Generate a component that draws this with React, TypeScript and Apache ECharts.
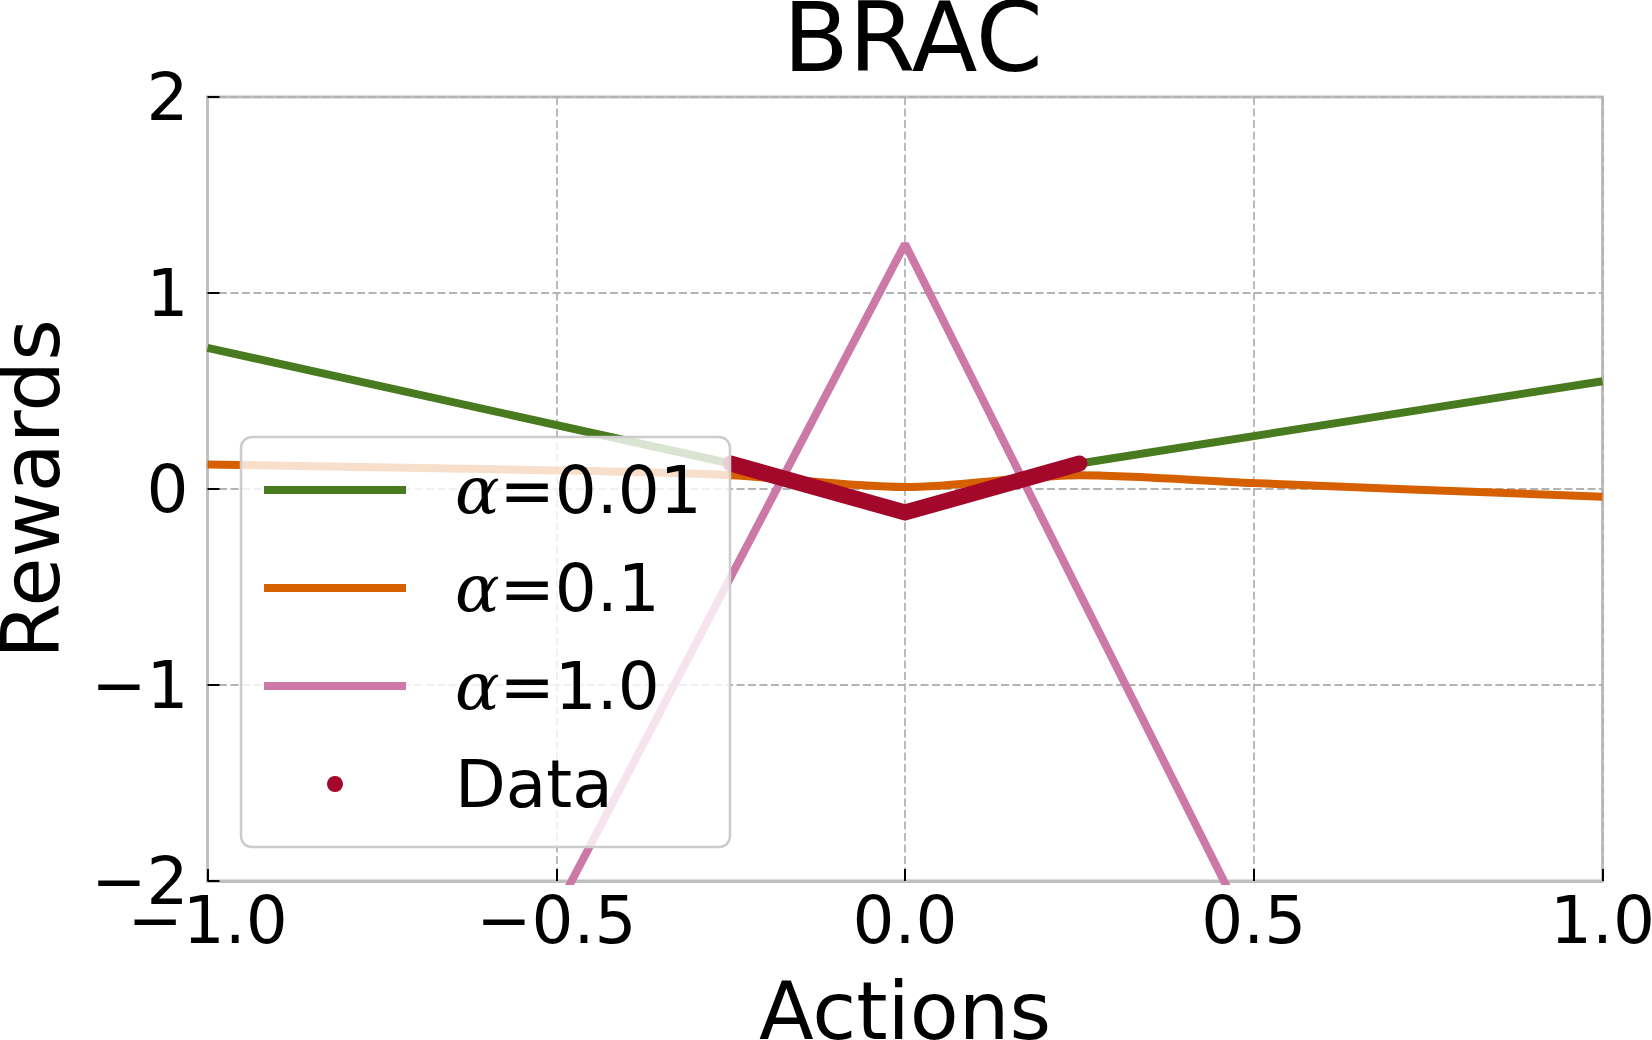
import React, { useEffect, useRef } from "react";
import * as echarts from "echarts";

// Sampled actions and the reward curves for each regularisation weight
const curveActions = [-1, -0.25, 0, 0.25, 1];
const rewardsAlpha001 = [0.72, 0.13, -0.1, 0.13, 0.55];
const midActions = [-1, -0.5, -0.25, 0, 0.25, 0.5, 1];
const rewardsAlpha01 = [0.125, 0.095, 0.07, 0.01, 0.07, 0.03, -0.04];
const rewardsAlpha1 = [-5.55, -0.45, 1.25, -0.53, -5.85];

// Behaviour data
const dataActions = [-0.25, 0, 0.25];
const dataRewards = [0.13, -0.12, 0.13];

const seriesNames = ["α=0.01", "α=0.1", "α=1.0", "Data"];
const seriesColors = ["#487a1f", "#d65f00", "#cc79a7", "#a3082b"];

const FONT = "DejaVu Sans";
const minus = (s: string) => s.replace("-", "\u2212");

const pairs = (xs: number[], ys: number[]) => xs.map((x, i) => [x, ys[i]]);

export default function App() {
  const ref = useRef<HTMLDivElement>(null);

  useEffect(() => {
    if (!ref.current) return;
    const chart = echarts.init(ref.current, undefined, { renderer: "svg" });

    const lineIcon = "path://M0 0H142V8H0Z";

    const option: any = {
      animation: false,
      backgroundColor: "#ffffff",
      textStyle: { fontFamily: FONT },
      title: {
        text: "BRAC",
        left: 778,
        top: -15,
        textStyle: {
          fontFamily: FONT,
          fontSize: 96,
          lineHeight: 96,
          fontWeight: "normal",
          color: "#000",
        },
      },
      grid: {
        left: 207.5,
        right: 49.5,
        top: 97,
        bottom: 159,
        show: true,
        borderColor: "#bfbfbf",
        borderWidth: 3,
        containLabel: false,
        outerBoundsMode: "none",
      },
      xAxis: {
        type: "value",
        min: -1,
        max: 1,
        interval: 0.5,
        name: "Actions",
        nameLocation: "middle",
        nameGap: 90,
        nameTextStyle: { fontFamily: FONT, fontSize: 80, color: "#000" },
        axisLine: { show: true, onZero: false, lineStyle: { color: "#bfbfbf", width: 3 } },
        axisTick: { show: true, inside: true, length: 12, lineStyle: { color: "#000", width: 2 } },
        axisLabel: {
          fontFamily: FONT,
          fontSize: 66,
          color: "#000",
          margin: 6,
          formatter: (v: number) => minus(v.toFixed(1)),
        },
        splitLine: { show: true, lineStyle: { color: "#b3b3b3", width: 1.8, type: [8, 3.5] } },
      },
      yAxis: {
        type: "value",
        min: -2,
        max: 2,
        interval: 1,
        name: "Rewards",
        nameLocation: "middle",
        nameGap: 136,
        nameTextStyle: { fontFamily: FONT, fontSize: 80, color: "#000" },
        axisLine: { show: true, onZero: false, lineStyle: { color: "#bfbfbf", width: 3 } },
        axisTick: { show: true, inside: true, length: 12, lineStyle: { color: "#000", width: 2 } },
        axisLabel: {
          fontFamily: FONT,
          fontSize: 66,
          color: "#000",
          margin: 19,
          formatter: (v: number) => minus(String(v)),
        },
        splitLine: { show: true, lineStyle: { color: "#b3b3b3", width: 1.8, type: [8, 3.5] } },
      },
      legend: {
        orient: "vertical",
        left: 264,
        top: 451,
        padding: 0,
        itemWidth: 142,
        itemHeight: 16,
        itemGap: 20,
        selectedMode: false,
        z: 20,
        data: [
          { name: seriesNames[0], icon: lineIcon },
          { name: seriesNames[1], icon: lineIcon },
          { name: seriesNames[2], icon: lineIcon },
          { name: seriesNames[3], icon: "circle" },
        ],
        formatter: (name: string) =>
          name.startsWith("α") ? `{a|α}{b|${name.slice(1)}}` : `{c|${name}}`,
        textStyle: {
          lineHeight: 78,
          color: "#000",
          rich: {
            a: {
              fontFamily: "DejaVu Serif",
              fontStyle: "italic",
              fontSize: 66,
              lineHeight: 78,
              color: "#000",
              padding: [0, 0, 0, 44],
            },
            b: { fontFamily: FONT, fontSize: 66, lineHeight: 78, color: "#000" },
            c: {
              fontFamily: FONT,
              fontSize: 66,
              lineHeight: 78,
              color: "#000",
              padding: [0, 0, 0, 44],
            },
          },
        },
      },
      graphic: [
        {
          type: "rect",
          z: 10,
          shape: { x: 241, y: 437, width: 489, height: 410, r: 11 },
          style: { fill: "rgba(255,255,255,0.8)", stroke: "#cccccc", lineWidth: 2.5 },
          silent: true,
        },
      ],
      series: [
        {
          name: seriesNames[0],
          type: "line",
          data: pairs(curveActions, rewardsAlpha001),
          symbol: "none",
          color: seriesColors[0],
          lineStyle: { color: seriesColors[0], width: 8 },
          z: 2,
        },
        {
          name: seriesNames[1],
          type: "line",
          data: pairs(midActions, rewardsAlpha01),
          symbol: "none",
          smooth: 0.3,
          color: seriesColors[1],
          lineStyle: { color: seriesColors[1], width: 8 },
          z: 2,
        },
        {
          name: seriesNames[2],
          type: "line",
          data: pairs(curveActions, rewardsAlpha1),
          symbol: "none",
          color: seriesColors[2],
          lineStyle: { color: seriesColors[2], width: 8 },
          z: 2,
        },
        {
          name: seriesNames[3],
          type: "line",
          data: pairs(dataActions, dataRewards),
          symbol: "none",
          color: seriesColors[3],
          itemStyle: { color: seriesColors[3] },
          lineStyle: { color: seriesColors[3], width: 16, cap: "round", join: "miter" },
          z: 3,
        },
      ],
    };

    chart.setOption(option);
    return () => chart.dispose();
  }, []);

  return (
    <div
      ref={ref}
      style={{ position: "fixed", left: 0, top: 0, width: 1652, height: 1040, background: "#fff" }}
    />
  );
}
